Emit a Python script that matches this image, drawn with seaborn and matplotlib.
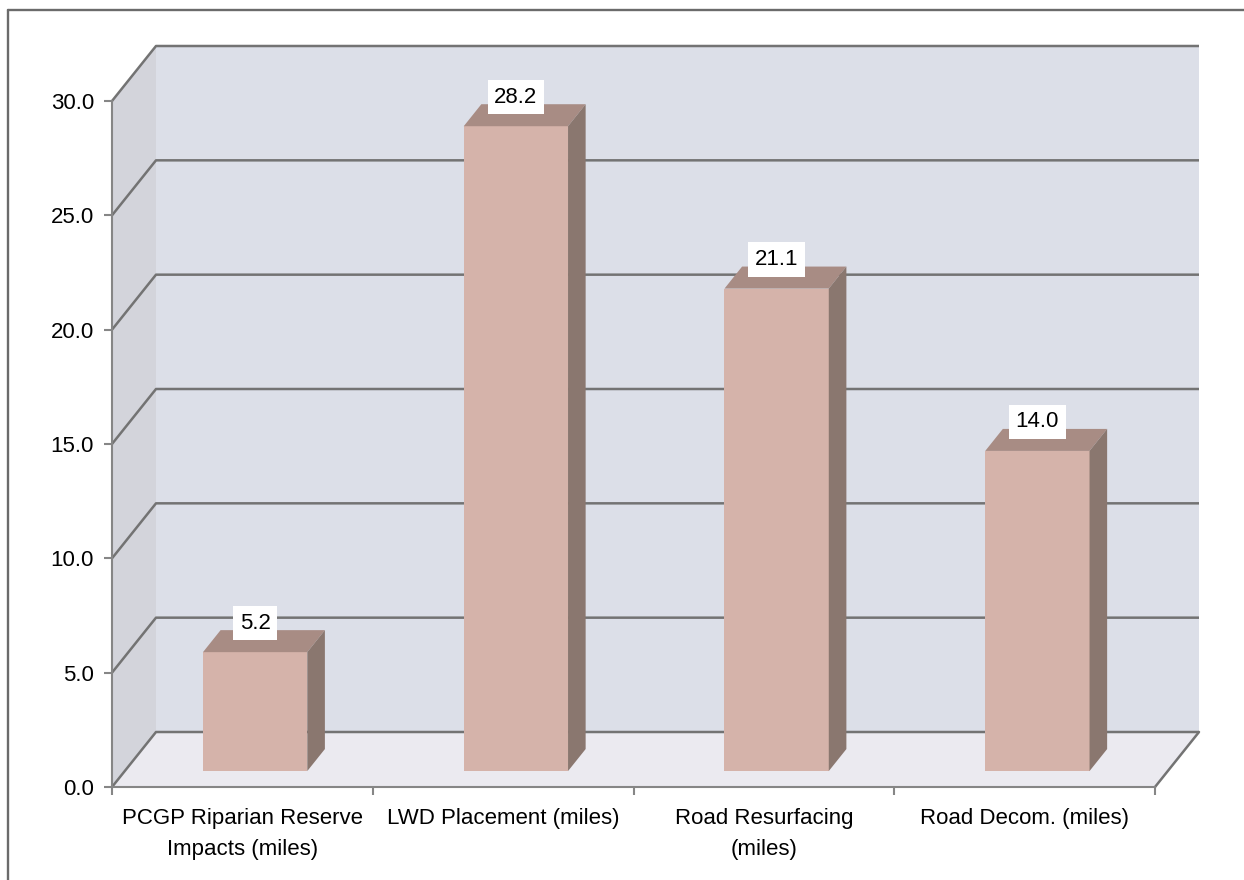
import matplotlib
matplotlib.use("Agg")
import matplotlib.pyplot as plt
import pandas as pd
import seaborn as sns
from matplotlib.patches import Polygon
from matplotlib.lines import Line2D
from matplotlib.ticker import FixedLocator, FormatStrFormatter
from matplotlib.transforms import ScaledTranslation

# ---- data -------------------------------------------------------------
categories = [
    "PCGP Riparian Reserve\nImpacts (miles)",
    "LWD Placement (miles)",
    "Road Resurfacing\n(miles)",
    "Road Decom. (miles)",
]
values = [5.2, 28.2, 21.1, 14.0]
y_ticks = [0, 5, 10, 15, 20, 25, 30]

# ---- styling ----------------------------------------------------------
FRONT = "#d5b3aa"
TOP = "#a88c84"
SIDE = "#8a776f"
BACK_WALL = "#dcdfe8"
LEFT_WALL = "#d3d4db"
FLOOR = "#ebeaf0"
GRID = "#737373"
AXIS = "#868686"
FONT_SIZE = 16

sns.set_theme(style="white")
plt.rcParams["font.family"] = ["Liberation Sans", "DejaVu Sans"]

W, H = 1244, 880
fig = plt.figure(figsize=(W / 100, H / 100), dpi=100)
fig.patch.set_facecolor("white")

# front plane of the box: x from 112 px to 1155 px, y from 101 px to 787 px
ax = fig.add_axes([112 / W, 1 - 787 / H, (1155 - 112) / W, (787 - 101) / H])
ax.patch.set_visible(False)

df = pd.DataFrame({"category": categories, "value": values})
sns.barplot(data=df, x="category", y="value", ax=ax, width=0.4,
            color=FRONT, saturation=1, edgecolor="none", linewidth=0,
            zorder=5)
bars = list(ax.patches)

ax.set_xlim(-0.5, len(categories) - 0.5)
ax.set_ylim(y_ticks[0], y_ticks[-1])
ax.set_xlabel("")
ax.set_ylabel("")

# depth of the box in pixels, converted to data units
DEPTH_PX = (44, 55)
px_x = (1155 - 112) / (len(categories))
px_y = (787 - 101) / (y_ticks[-1] - y_ticks[0])
DX = DEPTH_PX[0] / px_x
DY = DEPTH_PX[1] / px_y
x_lo, x_hi = -0.5, len(categories) - 0.5
y_top = y_ticks[-1]

# walls and floor
ax.add_patch(Polygon([(x_lo + DX, DY), (x_hi + DX, DY), (x_hi + DX, y_top + DY),
                      (x_lo + DX, y_top + DY)], closed=True, facecolor=BACK_WALL,
                     edgecolor="none", clip_on=False, zorder=0))
ax.add_patch(Polygon([(x_lo, 0), (x_lo, y_top), (x_lo + DX, y_top + DY), (x_lo + DX, DY)],
                     closed=True, facecolor=LEFT_WALL, edgecolor="none",
                     clip_on=False, zorder=0))
ax.add_patch(Polygon([(x_lo, 0), (x_hi, 0), (x_hi + DX, DY), (x_lo + DX, DY)],
                     closed=True, facecolor=FLOOR, edgecolor="none",
                     clip_on=False, zorder=0.5))

# gridlines running along the left wall and across the back wall
for yv in y_ticks:
    ax.plot([x_lo, x_lo + DX, x_hi + DX], [yv, yv + DY, yv + DY],
            color=GRID, lw=1.8, clip_on=False, zorder=1, solid_capstyle="butt")
ax.plot([x_hi, x_hi + DX], [0, DY], color=GRID, lw=1.8, clip_on=False, zorder=1)

# 3-D bar faces: front face shifted into the box, with top and side faces
BAR_POS = 0.29   # fraction of the box depth where the front face sits
BAR_DEPTH = 0.40  # fraction of the box depth taken by a bar
shift = ScaledTranslation(BAR_POS * DEPTH_PX[0] / 100, BAR_POS * DEPTH_PX[1] / 100,
                          fig.dpi_scale_trans)
bar_tr = ax.transData + shift
bdx, bdy = BAR_DEPTH * DX, BAR_DEPTH * DY

for p in bars:
    p.set_transform(bar_tr)
    p.set_clip_on(False)
    x0, w, h = p.get_x(), p.get_width(), p.get_height()
    ax.add_patch(Polygon([(x0, h), (x0 + w, h), (x0 + w + bdx, h + bdy), (x0 + bdx, h + bdy)],
                         closed=True, facecolor=TOP, edgecolor="none",
                         transform=bar_tr, clip_on=False, zorder=5))
    ax.add_patch(Polygon([(x0 + w, 0), (x0 + w, h), (x0 + w + bdx, h + bdy), (x0 + w + bdx, bdy)],
                         closed=True, facecolor=SIDE, edgecolor="none",
                         transform=bar_tr, clip_on=False, zorder=5))
    label_tr = bar_tr + ScaledTranslation(0, 0.29, fig.dpi_scale_trans)
    ax.text(x0 + w / 2, h, f"{h:.1f}", transform=label_tr, ha="center", va="center",
            fontsize=FONT_SIZE, color="black", zorder=10, clip_on=False,
            bbox=dict(boxstyle="square,pad=0.3", facecolor="white", edgecolor="none"))

# axes: spines, ticks, labels
for side in ("top", "right"):
    ax.spines[side].set_visible(False)
for side in ("left", "bottom"):
    ax.spines[side].set_color(AXIS)
    ax.spines[side].set_linewidth(1.5)
    ax.spines[side].set_zorder(2)

ax.yaxis.set_major_locator(FixedLocator(y_ticks))
ax.yaxis.set_major_formatter(FormatStrFormatter("%.1f"))
ax.tick_params(axis="y", which="major", length=5.5, width=1.5, color=AXIS,
               labelsize=FONT_SIZE, pad=7.5, labelcolor="black", left=True)
ax.xaxis.set_minor_locator(FixedLocator([i - 0.5 for i in range(len(categories) + 1)]))
ax.tick_params(axis="x", which="minor", length=6, width=1.5, color=AXIS, bottom=True)
ax.tick_params(axis="x", which="major", length=0, labelsize=FONT_SIZE, pad=15,
               labelcolor="black")
for lbl in ax.get_xticklabels():
    lbl.set_linespacing(1.62)

# outer chart frame
fig.add_artist(Line2D([8 / W, 8 / W], [0, 1 - 10 / H], color="#6b6b6b", lw=1.7))
fig.add_artist(Line2D([8 / W, 1], [1 - 10 / H, 1 - 10 / H], color="#6b6b6b", lw=1.7))

fig.savefig("out.png", dpi=100, facecolor="white")
